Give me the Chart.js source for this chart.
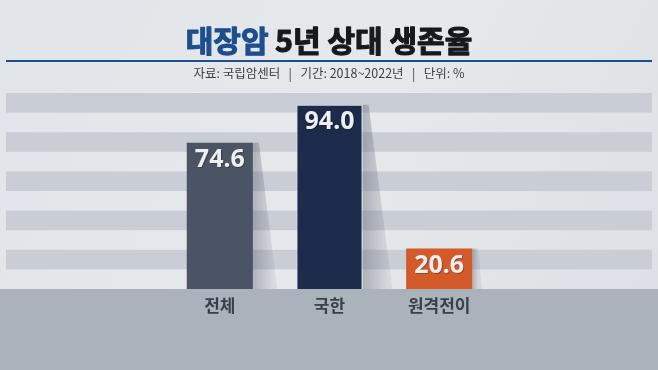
<!DOCTYPE html>
<html>
<head>
<meta charset="utf-8">
<script src="https://cdn.jsdelivr.net/npm/chart.js@4"></script>
<style>
  html, body { margin: 0; padding: 0; background: #e3e6ea; }
  #wrap { width: 658px; height: 370px; }
</style>
</head>
<body>
<div id="wrap"><canvas id="chart" width="658" height="370"></canvas></div>
<script>
const categories = ['전체', '국한', '원격전이'];
const survivalRates = [74.6, 94.0, 20.6];
const barColors = ['#4a5464', '#1c2a4b', '#d45a29'];
const stripeBands = [[10, 20], [30, 40], [50, 60], [70, 80], [90, 100]];

const titleBlue = '대장암 ';
const titleDark = '5년 상대 생존율';
const subtitle = '자료: 국립암센터   |   기간: 2018~2022년   |   단위: %';

const KR = '"Noto Sans CJK KR", "Noto Sans", sans-serif';

// Background panel, stripes and bottom band, drawn before everything else.
const backdropPlugin = {
  id: 'backdrop',
  beforeDraw(chart) {
    const { ctx, width, height, scales: { y } } = chart;
    ctx.save();
    const bg = ctx.createLinearGradient(0, 0, width, height);
    bg.addColorStop(0, '#e1e4e8');
    bg.addColorStop(0.5, '#e6e9ec');
    bg.addColorStop(1, '#dcdfe3');
    ctx.fillStyle = bg;
    ctx.fillRect(0, 0, width, height);

    ctx.fillStyle = '#c9cdd5';
    stripeBands.forEach(([lo, hi]) => {
      const top = y.getPixelForValue(hi);
      const bottom = y.getPixelForValue(lo);
      ctx.fillRect(6, top, width - 12, bottom - top);
    });

    const base = y.getPixelForValue(0);
    ctx.fillStyle = '#aab3bb';
    ctx.fillRect(0, base, width, height - base);

    // title, thickened with a thin stroke
    ctx.font = `700 30px ${KR}`;
    ctx.textBaseline = 'alphabetic';
    ctx.lineJoin = 'round';
    ctx.lineWidth = 1.2;
    const w1 = ctx.measureText(titleBlue).width;
    const w2 = ctx.measureText(titleDark).width;
    const x = width / 2 - (w1 + w2) / 2;
    ctx.fillStyle = ctx.strokeStyle = '#1d4f8f';
    ctx.fillText(titleBlue, x, 52);
    ctx.strokeText(titleBlue, x, 52);
    ctx.fillStyle = ctx.strokeStyle = '#17191d';
    ctx.fillText(titleDark, x + w1, 52);
    ctx.strokeText(titleDark, x + w1, 52);

    ctx.fillStyle = '#1d4e8c';
    ctx.fillRect(6, 60, width - 12, 2);

    ctx.font = `400 12.5px ${KR}`;
    ctx.fillStyle = '#3c3f44';
    ctx.textAlign = 'center';
    ctx.fillText(subtitle, width / 2, 78);
    ctx.restore();
  },
  // Diagonal shadows behind each bar.
  beforeDatasetsDraw(chart) {
    const { ctx } = chart;
    const meta = chart.getDatasetMeta(0);
    ctx.save();
    meta.data.forEach((bar) => {
      const right = bar.x + bar.width / 2;
      const h = bar.base - bar.y;
      const spread = h * 0.14;
      const grad = ctx.createLinearGradient(right, 0, right + spread, 0);
      grad.addColorStop(0, 'rgba(90, 98, 112, 0.4)');
      grad.addColorStop(1, 'rgba(90, 98, 112, 0.1)');
      ctx.fillStyle = grad;
      ctx.beginPath();
      ctx.moveTo(right, bar.y);
      ctx.lineTo(right + 6, bar.y);
      ctx.lineTo(right + spread + 4, bar.base);
      ctx.lineTo(right, bar.base);
      ctx.closePath();
      ctx.fill();
    });
    ctx.restore();
  },
  // Value labels inside bars and category labels under the baseline.
  afterDatasetsDraw(chart) {
    const { ctx, scales: { x, y } } = chart;
    const meta = chart.getDatasetMeta(0);
    ctx.save();
    ctx.textAlign = 'center';
    ctx.textBaseline = 'alphabetic';
    meta.data.forEach((bar, i) => {
      ctx.font = '700 25px "Noto Sans", sans-serif';
      ctx.fillStyle = 'rgba(0,0,0,0.25)';
      ctx.fillText(survivalRates[i].toFixed(1), bar.x + 1, bar.y + 25);
      ctx.fillStyle = '#eeeff1';
      ctx.fillText(survivalRates[i].toFixed(1), bar.x, bar.y + 24);
    });
    ctx.font = `700 17px ${KR}`;
    ctx.fillStyle = '#3a4049';
    categories.forEach((c, i) => {
      ctx.fillText(c, x.getPixelForValue(i), y.getPixelForValue(0) + 23);
    });
    ctx.restore();
  }
};

new Chart(document.getElementById('chart'), {
  type: 'bar',
  data: {
    labels: categories,
    datasets: [{
      data: survivalRates,
      backgroundColor: barColors,
      borderColor: ['rgba(0,0,0,0)', '#dfe4ea', 'rgba(0,0,0,0)'],
      borderWidth: [0, 1, 0],
      borderSkipped: 'bottom',
      categoryPercentage: 1,
      barPercentage: 0.603
    }]
  },
  options: {
    responsive: false,
    animation: false,
    events: [],
    layout: { padding: { left: 165, right: 164, top: 93, bottom: 81 } },
    plugins: { legend: { display: false }, tooltip: { enabled: false } },
    scales: {
      x: { display: false },
      y: { display: false, min: 0, max: 100 }
    }
  },
  plugins: [backdropPlugin]
});
</script>
</body>
</html>
